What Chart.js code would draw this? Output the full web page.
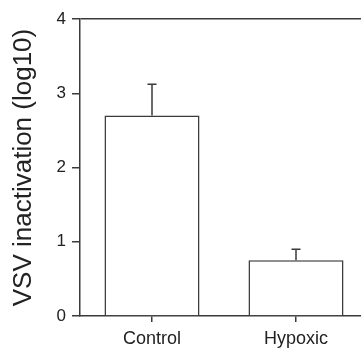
<!DOCTYPE html>
<html>
<head>
<meta charset="utf-8">
<script src="https://cdn.jsdelivr.net/npm/chart.js@4.4.0/dist/chart.umd.min.js"></script>
<style>
html,body{margin:0;padding:0;background:#fff;overflow:hidden;}
#wrap{position:relative;width:370px;height:351px;}
</style>
</head>
<body>
<div id="wrap"><canvas id="c" width="370" height="351"></canvas></div>
<script>
const categories = ["Control", "Hypoxic"];
const values = [2.7, 0.75];
const errorUpper = [3.12, 0.90];
const yTicks = [0, 1, 2, 3, 4];
const yTitle = "VSV inactivation (log10)";

const lineColor = '#3a3a3a';

const errorBars = {
  id: 'errorBars',
  afterDatasetsDraw(chart) {
    const ctx = chart.ctx;
    const meta = chart.getDatasetMeta(0);
    const ys = chart.scales.y;
    ctx.save();
    ctx.strokeStyle = lineColor;
    ctx.lineWidth = 1.5;
    meta.data.forEach((bar, i) => {
      const x = bar.x;
      const yTop = ys.getPixelForValue(errorUpper[i]);
      const yBar = ys.getPixelForValue(values[i]);
      ctx.beginPath();
      ctx.moveTo(x, yBar);
      ctx.lineTo(x, yTop);
      ctx.moveTo(x - 4.5, yTop);
      ctx.lineTo(x + 4.5, yTop);
      ctx.stroke();
    });
    ctx.restore();
  }
};

new Chart(document.getElementById('c'), {
  type: 'bar',
  data: {
    labels: categories,
    datasets: [{
      data: values,
      backgroundColor: '#ffffff',
      borderColor: lineColor,
      borderWidth: 1.5,
      barPercentage: 0.66,
      categoryPercentage: 1.0
    }]
  },
  options: {
    responsive: false,
    animation: false,
    devicePixelRatio: 1,
    layout: { padding: { top: 19, right: 2, bottom: 0, left: 0 } },
    plugins: { legend: { display: false }, tooltip: { enabled: false } },
    scales: {
      x: {
        offset: true,
        grid: { display: true, offset: false, drawOnChartArea: false, tickLength: 6, color: lineColor, lineWidth: 1.5 },
        border: { display: true, color: lineColor, width: 1.5 },
        ticks: { color: '#222', padding: 6, font: { family: 'Liberation Sans', size: 18 } },
        afterFit(s) { s.height = 35; }
      },
      y: {
        min: 0, max: 4,
        afterBuildTicks(s) { s.ticks = yTicks.map(v => ({ value: v })); },
        grid: {
          drawOnChartArea: true,
          tickLength: 8,
          color: c => (c.tick && c.tick.value === 4) ? lineColor : 'rgba(0,0,0,0)',
          tickColor: lineColor,
          lineWidth: 1.5
        },
        border: { display: true, color: lineColor, width: 1.5 },
        ticks: { color: '#222', padding: 6, font: { family: 'Liberation Sans', size: 17 } },
        title: { display: true, text: yTitle, color: '#222', padding: { top: 8, bottom: 4 }, font: { family: 'Liberation Sans', size: 26 } },
        afterFit(s) { s.width = 80; }
      }
    }
  },
  plugins: [errorBars]
});
</script>
</body>
</html>
